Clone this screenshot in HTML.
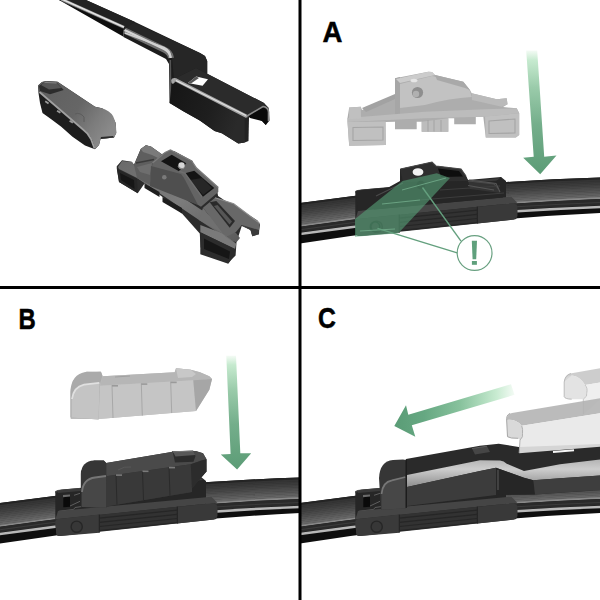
<!DOCTYPE html>
<html><head><meta charset="utf-8"><title>Wiper</title>
<style>
html,body{margin:0;padding:0;background:#fff;width:600px;height:600px;overflow:hidden}
svg{display:block;position:absolute;left:0;top:0}
</style></head><body>
<svg width="600" height="600" viewBox="0 0 600 600">
<defs>
<linearGradient id="gA" x1="0" y1="0" x2="0" y2="1">
 <stop offset="0" stop-color="#4f9c6c" stop-opacity="0"/>
 <stop offset="0.35" stop-color="#4f9c6c" stop-opacity="0.45"/>
 <stop offset="1" stop-color="#4f9c6c" stop-opacity="1"/>
</linearGradient>
<linearGradient id="gC" x1="0" y1="0" x2="1" y2="0">
 <stop offset="0" stop-color="#4f9c6c" stop-opacity="1"/>
 <stop offset="0.6" stop-color="#4f9c6c" stop-opacity="0.7"/>
 <stop offset="1" stop-color="#4f9c6c" stop-opacity="0"/>
</linearGradient>

<linearGradient id="capTop" x1="0" y1="0" x2="1" y2="0.6">
 <stop offset="0" stop-color="#5e5e5e"/>
 <stop offset="0.55" stop-color="#666666"/>
 <stop offset="0.8" stop-color="#7c7c7c"/>
 <stop offset="1" stop-color="#8a8a8a"/>
</linearGradient>
<linearGradient id="armSide" x1="0" y1="0" x2="1" y2="0.3">
 <stop offset="0" stop-color="#151515"/>
 <stop offset="0.6" stop-color="#1e1e1e"/>
 <stop offset="1" stop-color="#2a2a2a"/>
</linearGradient>
<linearGradient id="adpTop" x1="0" y1="0" x2="1" y2="1">
 <stop offset="0" stop-color="#6a6a6a"/>
 <stop offset="0.5" stop-color="#7c7c7c"/>
 <stop offset="1" stop-color="#5a5a5a"/>
</linearGradient>

<linearGradient id="arrV" x1="0" y1="0" x2="0" y2="1">
 <stop offset="0" stop-color="#f4fbf5"/>
 <stop offset="0.08" stop-color="#c6eacf"/>
 <stop offset="0.3" stop-color="#9acbaa"/>
 <stop offset="0.6" stop-color="#74ae8b"/>
 <stop offset="1" stop-color="#5c9c76"/>
</linearGradient>
<linearGradient id="arrH" x1="0" y1="0" x2="1" y2="0">
 <stop offset="0" stop-color="#5a9c76"/>
 <stop offset="0.25" stop-color="#66a882"/>
 <stop offset="0.55" stop-color="#88c29d"/>
 <stop offset="0.85" stop-color="#c8ebd1"/>
 <stop offset="1" stop-color="#f4fbf5"/>
</linearGradient>
<linearGradient id="capEndL" x1="0" y1="0" x2="1" y2="1">
 <stop offset="0" stop-color="#d2d2d2"/>
 <stop offset="0.5" stop-color="#bfbfbf"/>
 <stop offset="1" stop-color="#a9a9a9"/>
</linearGradient>
<linearGradient id="capEndD" x1="0" y1="0" x2="1" y2="1">
 <stop offset="0" stop-color="#4a4a4a"/>
 <stop offset="0.4" stop-color="#545454"/>
 <stop offset="1" stop-color="#333333"/>
</linearGradient>
<linearGradient id="armLight" x1="0" y1="0" x2="0" y2="1">
 <stop offset="0" stop-color="#b4b4b4"/>
 <stop offset="0.35" stop-color="#cdcdcd"/>
 <stop offset="1" stop-color="#8e8e8e"/>
</linearGradient>
</defs>
<rect width="600" height="600" fill="#fff"/>
<polygon points="59,0 86,0 135,22 200,53 205,56 207.2,61 207.2,73.75 264,103 268.6,107.7 269.5,120.5 265.8,125 262,121 250,115 245.7,119.6 244.75,142.5 238.3,143.4 221.8,133.3 214.5,131 199.8,120.5 183.3,111.3 169.6,103 169,64 166,59 123.5,37 123.5,29" fill="#1c1c1c" />
<polygon points="59,0 86,0 135,22 124,30" fill="#222222" />
<polygon points="59,0 123.5,29 123.5,37 124,37" fill="#0e0e0e" />
<path d="M61.5,-0.8 L124,27.3" stroke="#a0a0a0" stroke-width="2.8" fill="none"/>
<path d="M61.5,-1 L124,27.1" stroke="#e6e6e6" stroke-width="1.3" fill="none"/>
<polygon points="134,22.5 200,53 205,56 207.2,61 207.2,73.75 196,68 174,79 172,58 166,50 125,29" fill="#262626" />
<path d="M124.5,30.5 L164,49.5 Q170.5,52.5 171,58" stroke="#707070" stroke-width="6" fill="none" stroke-linejoin="round"/>
<path d="M124.5,30 L164,49 Q170,52 170.6,58" stroke="#d4d4d4" stroke-width="2.4" fill="none" stroke-linejoin="round"/>
<path d="M170.3,60 L170.6,100" stroke="#555555" stroke-width="1.6" fill="none"/>
<path d="M125,33 L164,47.5 Q170,50 170.6,57" stroke="#d0d0d0" stroke-width="1.6" fill="none"/>
<polygon points="174,79 196,68 207.2,73.75 264,103 266,107 246,116" fill="#2b2b2b" />
<polygon points="187.9,82.9 196.2,76.5 208,79.25 202.6,85.7" fill="#ffffff" />
<polygon points="187.9,82.9 196.2,76.5 199,78 191,83.5" fill="#555555" />
<polygon points="172,81 246,117 244.75,142.5 238.3,143.4 221.8,133.3 214.5,131 199.8,120.5 183.3,111.3 169.6,103" fill="url(#armSide)" />
<path d="M173,82 Q172,79 176,80 L246,116" stroke="#a5a5a5" stroke-width="3.4" fill="none" stroke-linecap="round"/>
<path d="M176,80.5 L246,115.5" stroke="#e2e2e2" stroke-width="1.1" fill="none"/>
<polygon points="248,116 263,107 267,110 268,121 265.8,125 262,121 250,118" fill="#0a0a0a" />
<path d="M247,116 L263,106.5 Q268,107 268.6,112 L268.5,121" stroke="#8a8a8a" stroke-width="1.6" fill="none"/>
<polygon points="244.75,119 249,116.5 248.5,141 244.75,142.5" fill="#232323" />
<polygon points="38.1,85.5 42,82 46.25,81.1 57.5,81.75 95,106.75 102,108.25 111,114.25 115.5,122.5 116.25,133 114,137.5 100.5,139 99,145 95,149.25 85,145.5 72.5,136.75 61.25,126.75 51.25,119.25 42.5,113 40,103 38.5,93" fill="#1d1d1d" />
<path d="M38.1,85.5 L42,82 L46.25,81.1 L57.5,81.75 L95,106.75 L102,108.25 Q110,111 113,116 Q116.5,123 116.25,133 L114,137.5 L100.5,139 L99,145 L95,149 Q93,140 90,136 Q87,132 83,129 L39.4,91.75 Z" fill="url(#capTop)"/>
<path d="M39.4,92 L83,129.5 Q88,133 91,139 L94.5,148.5" stroke="#a0a0a0" stroke-width="1.8" fill="none"/>
<polygon points="39,86 43.75,82.5 57,83 63.75,89.9 50,94.25 40,91" fill="#2c2c2c" />
<polygon points="41,85 44.5,82.2 56.5,82.8 61.5,88 49,89.5" fill="#565656" />
<path d="M44.5,82.4 L56.5,83" stroke="#8a8a8a" stroke-width="0.9"/>
<rect x="44.9" y="101.5" width="4" height="1.8" fill="#9a9a9a" transform="rotate(33 46.9 102.4)"/>
<rect x="56.75" y="110.85" width="4" height="1.8" fill="#9a9a9a" transform="rotate(33 58.75 111.75)"/>
<rect x="69.25" y="120.85" width="4" height="1.8" fill="#9a9a9a" transform="rotate(33 71.25 121.75)"/>
<path d="M75,114 Q80,112 84,117 L84,122" stroke="#5a5a5a" stroke-width="0.9" fill="none"/>
<polygon points="100.5,139 114,137.5 113,136 101,137" fill="#2a2a2a" />
<polygon points="116.75,166.25 122,160.25 131.75,161.75 134,164.75 140.75,149 146,145.25 151.25,146.75 161.75,154.25 170,150.5 174.5,151.25 192.5,161 194.5,167.9 217.25,191.5 218.1,195.9 229.5,203.75 232.1,204.6 257.5,220.4 260.1,224.75 258.4,233.5 252.25,235.25 250.5,230 241.75,226 236.5,242.25 235.6,255.4 227.75,263.25 200.6,247.5 199.75,233.5 182,213.5 162.5,197 144.5,183.5 137.75,193.25 119,182 116.75,168.5" fill="#2c2c2c" />
<polygon points="118,167 122,161 132,162 134,165 200,209 236,233 240,238 236.5,242.25 229,240 199,220 137,178 119,169" fill="url(#adpTop)" />
<polygon points="117,169 137,179 137.75,193.25 119,182" fill="#262626" />
<polygon points="120,173 134,180 134.5,189 121,180" fill="#161616" />
<polygon points="134,165 140.75,149 146,145.25 151.25,146.75 161.75,154.25 158,158 152.3,163.3 150,185 137,178" fill="#5e5e5e" />
<polygon points="140.75,149 146,145.25 151.25,146.75 161.75,154.25 158,158 152,155 143,152" fill="#7a7a7a" />
<path d="M136,163 L154,159.5" stroke="#3a3a3a" stroke-width="1.4" fill="none"/>
<polygon points="137,167 152,163 150,175 140,172" fill="#6e6e6e" />
<polygon points="152.3,163.3 165,152.7 170.3,150 191.7,161.3 196.3,168 218.3,187.3 218.3,192 201,206.7 196.3,204 150,185" fill="#646464" />
<polygon points="151,166 181,174 184,178 198,205 150,186" fill="#4f4f4f" />
<polygon points="161,161.3 171.7,154.7 186.3,163.3 179,171.3" fill="#141414" />
<polygon points="185,173.3 194.3,170.7 214.3,188 202.3,197.3" fill="#141414" />
<polygon points="190,180 202,178 212,188 203,195" fill="#262626" />
<path d="M152.5,163 L165,152.5 L170.5,150 L191.7,161 L196.5,168 L218.3,187.5" stroke="#7c7c7c" stroke-width="1.3" fill="none"/>
<path d="M179,171.3 L185,173.3 L202.3,197.3" stroke="#6e6e6e" stroke-width="1.5" fill="none"/>
<circle cx="181.5" cy="165.5" r="3.2" fill="#d6d6d6"/>
<path d="M178,166 Q180,170 184,168" stroke="#8a8a8a" stroke-width="1.2" fill="none"/>
<circle cx="164.3" cy="177.3" r="2.3" fill="#7a7a7a"/>
<polygon points="203,207.7 215,197.7 218.3,198.3 233.7,203.7 257.7,221.7 259.7,223.7 259,234.3 252.3,236.3 250.5,230 241.7,225 236,232 225.7,237" fill="#686868" />
<path d="M215,197.7 L233.7,203.7 L257.7,221.7 L259.7,223.7" stroke="#8c8c8c" stroke-width="1.2" fill="none"/>
<polygon points="209.7,202.3 216.3,201 235,221 229.7,227.7" fill="#2a2a2a" />
<polygon points="214,206 217.5,205 232,221.5 229.5,224.5" fill="#565656" />
<polygon points="241.7,225 259,230 259,234.3 252.3,236.3 250.5,230" fill="#3a3a3a" />
<polygon points="200.3,225 221.7,233 236.3,243.7 235,249 200.3,232.3" fill="#7a7a7a" />
<polygon points="203,207.7 225.7,237 236.3,243.7 221.7,233 199,220" fill="#707070" />
<polygon points="200.3,232.3 235,249 235,254.3 228.3,263.7 200.3,254.3" fill="#2c2c2c" />
<polygon points="204,238.5 230,251.5 229,259 204,249" fill="#161616" />
<polygon points="144.5,183.5 159.5,192 159.5,197 144.5,188" fill="#1e1e1e" />
<polygon points="162.5,197 182,208 182,213.5 162.5,202" fill="#1e1e1e" />
<g transform="translate(300,0)"><path d="M0,203.00 Q150,182.30 300,177.60 L300,213.10 Q150,220.30 0,243.50 Z" fill="#0e0e0e" />
<path d="M0,203.00 Q150,182.30 300,177.60 L300,199.10 Q150,205.05 0,227.00 Z" fill="#242424" />
<path d="M0,205.00 Q150,184.30 300,179.60 L300,181.44 Q150,186.25 0,207.05 Z" fill="#343434" />
<path d="M0,206.75 Q150,185.95 300,181.14 L300,182.98 Q150,187.89 0,208.80 Z" fill="#373737" />
<path d="M0,208.50 Q150,187.59 300,182.68 L300,184.53 Q150,189.54 0,210.55 Z" fill="#3b3b3b" />
<path d="M0,210.25 Q150,189.24 300,184.22 L300,186.07 Q150,191.18 0,212.30 Z" fill="#3f3f3f" />
<path d="M0,212.00 Q150,190.88 300,185.77 L300,187.61 Q150,192.83 0,214.05 Z" fill="#444444" />
<path d="M0,213.75 Q150,192.53 300,187.31 L300,189.15 Q150,194.48 0,215.80 Z" fill="#494949" />
<path d="M0,215.50 Q150,194.18 300,188.85 L300,190.69 Q150,196.12 0,217.55 Z" fill="#4e4e4e" />
<path d="M0,217.25 Q150,195.82 300,190.39 L300,192.23 Q150,197.77 0,219.30 Z" fill="#545454" />
<path d="M0,219.00 Q150,197.47 300,191.93 L300,193.78 Q150,199.41 0,221.05 Z" fill="#5a5a5a" />
<path d="M0,220.75 Q150,199.11 300,193.47 L300,195.32 Q150,201.06 0,222.80 Z" fill="#606060" />
<path d="M0,222.50 Q150,200.76 300,195.02 L300,196.86 Q150,202.70 0,224.55 Z" fill="#666666" />
<path d="M0,224.25 Q150,202.40 300,196.56 L300,198.40 Q150,204.35 0,226.30 Z" fill="#6d6d6d" />
<path d="M0,225.20 Q150,203.25 300,197.30 L300,198.90 Q150,204.85 0,226.80 Z" fill="#8a8a8a" />
<path d="M0,226.80 Q150,204.85 300,198.90 L300,205.60 Q150,211.10 0,232.60 Z" fill="#2a2a2a" />
<path d="M0,229.20 Q150,207.55 300,201.90 L300,202.90 Q150,208.55 0,230.20 Z" fill="#3c3c3c" />
<path d="M0,232.80 Q150,211.25 300,205.70 L300,208.20 Q150,213.75 0,235.30 Z" fill="#b8b8b8" />
<polygon points="55.3,191 62,189.5 201,177 206,181 206,204 55.3,220" fill="#262626" />
<polygon points="57,191 201,178 203,180 58,193" fill="#3a3a3a" />
<polygon points="63.3,196 70,195.4 70,206.7 63.3,207.3" fill="#0a0a0a" />
<polygon points="63,195 70,194.4 70,196.6 63,197.2" fill="#6a6a6a" />
<path d="M70,206 L80,201.3 M74,195.3 L80,193.3 M58.7,211.3 L73.5,209.5 L75,207.5 L82,206.5" stroke="#5e5e5e" stroke-width="1" fill="none"/>
<path d="M55.6,193 Q56,190.6 58.5,190.4 L80,188.6" stroke="#444" stroke-width="1" fill="none"/>
<polygon points="58,211 211.3,196.7 217.3,202.7 55.3,219.5" fill="#454545" />
<path d="M58,219 L214,203 Q217.3,202.7 217.3,206 L217.3,216 Q217.3,219.3 214,219.6 L60,236 Q56.5,236.4 56.2,233 L55.3,222.5 Q55.3,219.3 58,219 Z" fill="#323232"/>
<path d="M58,219 L99.3,214.6 L99.3,232.7 L60,236 Q56.5,236.4 56.2,233 L55.3,222.5 Q55.3,219.3 58,219 Z" fill="#3a3a3a"/>
<polygon points="177.3,207 214,203 217.3,206 217.3,216 214,219.6 177.3,223.5" fill="#393939" />
<line x1="99.3" y1="214.6" x2="99.3" y2="232.7" stroke="#222" stroke-width="1"/>
<line x1="177.3" y1="206.6" x2="177.3" y2="223.6" stroke="#222" stroke-width="1"/>
<circle cx="76.7" cy="226.7" r="5.6" fill="#373737" stroke="#262626" stroke-width="1.4"/>
<line x1="99.3" y1="218.1" x2="177.3" y2="210.1" stroke="#262626" stroke-width="1.2"/>
<line x1="99.3" y1="222.3" x2="177.3" y2="214.3" stroke="#262626" stroke-width="1.2"/>
<line x1="99.3" y1="226.5" x2="177.3" y2="218.5" stroke="#262626" stroke-width="1.2"/>
<line x1="99.3" y1="230.7" x2="177.3" y2="222.7" stroke="#262626" stroke-width="1.2"/></g>
<polygon points="349.2,107.5 360.8,106.7 362,110 395,95 395,78.3 428.3,71.7 432,72 435,75 463.3,81.7 470,90 471.7,93.3 496.7,99.2 506.7,98.3 507.5,104.2 503,107 516.7,108.3 519.2,113.3 519.2,135 515.8,137.5 485.8,137.5 483.3,116.7 475.8,117 475.8,124.2 454.2,124.2 454.2,118.3 448.3,118.3 448.3,131.7 421.7,131.7 421.7,121.7 416.7,121.7 416.7,129.2 395,129.2 395,121.7 385.5,122 385.8,145 349.2,145.8 347.5,122 347.5,118" fill="#adadad" />
<path d="M400,84 L432,76 L463.3,83 L470,91 L471.7,97 Q450,98 425,105 L400,108 Z" fill="#c2c2c2"/>
<polygon points="395,78.3 400,77 400,115 395,115" fill="#a6a6a6" />
<polygon points="396,79 428.3,71.7 432,72 435,75 400,83" fill="#cccccc" />
<polygon points="435,75 463.3,81.7 470,90 465,88 437,80" fill="#a9a9a9" />
<ellipse cx="414" cy="80.5" rx="3.5" ry="1.8" fill="#e6e6e6"/>
<circle cx="417.5" cy="92.5" r="5.6" fill="#8e8e8e"/><circle cx="416" cy="94" r="3.2" fill="#b0b0b0"/>
<polygon points="362,108 395,94 395,99 366,112" fill="#a2a2a2" />
<polygon points="471.7,93.3 496.7,99.2 506.7,98.3 507.5,104.2 501.7,106.7 472,100" fill="#bababa" />
<polygon points="347.5,118 425,111.7 485,109.2 516.7,108.3 519.2,113.3 483.3,116.7 425,118.3 347.5,122" fill="#bcbcbc" />
<polygon points="347.5,122 385.5,121.5 385.8,145 349.2,145.8" fill="#c0c0c0" />
<polygon points="353,127.5 383,127 383,140 353,140.5" fill="none" stroke="#a4a4a4" stroke-width="1.1"/>
<polygon points="349.2,107.5 360.8,106.7 361,118.5 349,119" fill="#c0c0c0" />
<polygon points="485,116.5 519.2,113.3 519.2,135 515.8,137.5 485.8,137.5" fill="#c0c0c0" />
<polygon points="489,121 515,119 515,133 489,133.5" fill="none" stroke="#a4a4a4" stroke-width="1.1"/>
<polygon points="421.7,121.7 448.3,118.3 448.3,131.7 421.7,131.7" fill="#bdbdbd" />
<line x1="428" y1="120" x2="428" y2="131.5" stroke="#a0a0a0" stroke-width="0.9"/>
<line x1="434" y1="120" x2="434" y2="131.5" stroke="#a0a0a0" stroke-width="0.9"/>
<line x1="441" y1="120" x2="441" y2="131.5" stroke="#a0a0a0" stroke-width="0.9"/>
<polygon points="526.2,50.5 537.2,50.5 544.2,156.7 556.5,155.5 540.2,174.2 523.2,157.8 533.7,156.7" fill="url(#arrV)"/>
<polygon points="355.8,190.8 388.3,187.5 400,181 400,169 432,162 436,166 461,169 466,176 468,180 494,183 501,177 503,181 503,197.5 358,211" fill="#262626" />
<polygon points="400,169 432,162 436,166 461,169 466,176 468,181 403,182" fill="#2e2e2e" />
<polygon points="438,168.5 459,171 463,176.5 441,177" fill="#0e0e0e" />
<path d="M400.5,169 L432,162 L436,166 L461,169 L466,176" stroke="#4a4a4a" stroke-width="1.1" fill="none"/>
<ellipse cx="418" cy="172" rx="5.4" ry="3.8" fill="#f2f2f2"/>
<polygon points="468,180 494,183 499,189 500,193 470,189" fill="#333333" />
<path d="M376,196 L403,183 M468,181 L494,184 L499,189" stroke="#4a4a4a" stroke-width="1.1" fill="none"/>
<path d="M440,190 L500,186 M420,200 L504,193" stroke="#3c3c3c" stroke-width="1" fill="none"/>
<path d="M469,180 L496,183.5 L500,192 M468,185.5 L494,190" stroke="#555555" stroke-width="1.1" fill="none"/>
<polygon points="355,236.7 355,219 402.5,181 436.7,173.3 450,178 398.3,233.3" fill="#559e76" fill-opacity="0.62"/>
<circle cx="375" cy="226.7" r="4.8" fill="none" stroke="#3f7055" stroke-width="1.3"/>
<circle cx="420.8" cy="185" r="4.3" fill="#3f6a52"/>
<path d="M360,231 L395,229 M382,204 L420,200 M402,190 L446,178" stroke="#79b592" stroke-width="0.9" fill="none" stroke-opacity="0.8"/>
<line x1="422.5" y1="187.5" x2="461" y2="241.2" stroke="#64a07e" stroke-width="1.4"/>
<line x1="377.5" y1="228.3" x2="457.2" y2="252.8" stroke="#64a07e" stroke-width="1.4"/>
<circle cx="474.6" cy="253" r="17.4" fill="#fff" fill-opacity="0.92" stroke="#68a080" stroke-width="1.2"/>
<path d="M471.8,240.7 L477,240.7 L476.2,259.3 L472.6,259.3 Z" fill="#5fa07c"/><rect x="471.9" y="261" width="5" height="3.8" fill="#5fa07c"/>
<g transform="translate(0,300)"><path d="M0,203.00 Q150,182.30 300,177.60 L300,213.10 Q150,220.30 0,243.50 Z" fill="#0e0e0e" />
<path d="M0,203.00 Q150,182.30 300,177.60 L300,199.10 Q150,205.05 0,227.00 Z" fill="#242424" />
<path d="M0,205.00 Q150,184.30 300,179.60 L300,181.44 Q150,186.25 0,207.05 Z" fill="#343434" />
<path d="M0,206.75 Q150,185.95 300,181.14 L300,182.98 Q150,187.89 0,208.80 Z" fill="#373737" />
<path d="M0,208.50 Q150,187.59 300,182.68 L300,184.53 Q150,189.54 0,210.55 Z" fill="#3b3b3b" />
<path d="M0,210.25 Q150,189.24 300,184.22 L300,186.07 Q150,191.18 0,212.30 Z" fill="#3f3f3f" />
<path d="M0,212.00 Q150,190.88 300,185.77 L300,187.61 Q150,192.83 0,214.05 Z" fill="#444444" />
<path d="M0,213.75 Q150,192.53 300,187.31 L300,189.15 Q150,194.48 0,215.80 Z" fill="#494949" />
<path d="M0,215.50 Q150,194.18 300,188.85 L300,190.69 Q150,196.12 0,217.55 Z" fill="#4e4e4e" />
<path d="M0,217.25 Q150,195.82 300,190.39 L300,192.23 Q150,197.77 0,219.30 Z" fill="#545454" />
<path d="M0,219.00 Q150,197.47 300,191.93 L300,193.78 Q150,199.41 0,221.05 Z" fill="#5a5a5a" />
<path d="M0,220.75 Q150,199.11 300,193.47 L300,195.32 Q150,201.06 0,222.80 Z" fill="#606060" />
<path d="M0,222.50 Q150,200.76 300,195.02 L300,196.86 Q150,202.70 0,224.55 Z" fill="#666666" />
<path d="M0,224.25 Q150,202.40 300,196.56 L300,198.40 Q150,204.35 0,226.30 Z" fill="#6d6d6d" />
<path d="M0,225.20 Q150,203.25 300,197.30 L300,198.90 Q150,204.85 0,226.80 Z" fill="#8a8a8a" />
<path d="M0,226.80 Q150,204.85 300,198.90 L300,205.60 Q150,211.10 0,232.60 Z" fill="#2a2a2a" />
<path d="M0,229.20 Q150,207.55 300,201.90 L300,202.90 Q150,208.55 0,230.20 Z" fill="#3c3c3c" />
<path d="M0,232.80 Q150,211.25 300,205.70 L300,208.20 Q150,213.75 0,235.30 Z" fill="#b8b8b8" />
<polygon points="55.3,191 62,189.5 201,177 206,181 206,204 55.3,220" fill="#262626" />
<polygon points="57,191 201,178 203,180 58,193" fill="#3a3a3a" />
<polygon points="63.3,196 70,195.4 70,206.7 63.3,207.3" fill="#0a0a0a" />
<polygon points="63,195 70,194.4 70,196.6 63,197.2" fill="#6a6a6a" />
<path d="M70,206 L80,201.3 M74,195.3 L80,193.3 M58.7,211.3 L73.5,209.5 L75,207.5 L82,206.5" stroke="#5e5e5e" stroke-width="1" fill="none"/>
<path d="M55.6,193 Q56,190.6 58.5,190.4 L80,188.6" stroke="#444" stroke-width="1" fill="none"/>
<polygon points="58,211 211.3,196.7 217.3,202.7 55.3,219.5" fill="#454545" />
<path d="M58,219 L214,203 Q217.3,202.7 217.3,206 L217.3,216 Q217.3,219.3 214,219.6 L60,236 Q56.5,236.4 56.2,233 L55.3,222.5 Q55.3,219.3 58,219 Z" fill="#323232"/>
<path d="M58,219 L99.3,214.6 L99.3,232.7 L60,236 Q56.5,236.4 56.2,233 L55.3,222.5 Q55.3,219.3 58,219 Z" fill="#3a3a3a"/>
<polygon points="177.3,207 214,203 217.3,206 217.3,216 214,219.6 177.3,223.5" fill="#393939" />
<line x1="99.3" y1="214.6" x2="99.3" y2="232.7" stroke="#222" stroke-width="1"/>
<line x1="177.3" y1="206.6" x2="177.3" y2="223.6" stroke="#222" stroke-width="1"/>
<circle cx="76.7" cy="226.7" r="5.6" fill="#373737" stroke="#262626" stroke-width="1.4"/>
<line x1="99.3" y1="218.1" x2="177.3" y2="210.1" stroke="#262626" stroke-width="1.2"/>
<line x1="99.3" y1="222.3" x2="177.3" y2="214.3" stroke="#262626" stroke-width="1.2"/>
<line x1="99.3" y1="226.5" x2="177.3" y2="218.5" stroke="#262626" stroke-width="1.2"/>
<line x1="99.3" y1="230.7" x2="177.3" y2="222.7" stroke="#262626" stroke-width="1.2"/></g>
<polygon points="70.7,419 70.7,389.7 73,381 78.7,375 86.7,371.5 101.3,372.3 102.7,376.3 174.7,372.3 176,368.3 190.7,369.7 200,372.3 209.3,376.3 212,379 209.3,389.7 196,411 98.7,419" fill="#bdbdbd" />
<polygon points="102.7,376.3 174.7,372.3 176,368.3 190.7,369.7 200,372.3 209.3,376.3 212,379 193.3,380.3 100,385.7" fill="#b6b6b6" />
<polygon points="176,368.3 190.7,369.7 196,374 192,377 178,378" fill="#c8c8c8" />
<polygon points="100,385.7 193.3,380.3 196,411 98.7,419" fill="#c5c5c5" />
<polygon points="193.3,380.3 212,379 209.3,389.7 196,411" fill="#a6a6a6" />
<path d="M70.4,417.4 L70.4,392 Q71,374 86,371.9 L100.75,371.4 L102.4,375.7 L99.7,385 L98.6,419.6 Z" fill="#aaaaaa"/>
<path d="M71.5,417.4 L71.5,400 Q73,387 84,384.5 L99.5,382.75 L98.6,419.6 Z" fill="#c4c4c4"/>
<path d="M72,399 Q73.5,387 84,384.6 L99.3,382.9" stroke="#e0e0e0" stroke-width="1.8" fill="none"/>
<line x1="112" y1="385.0" x2="113" y2="418.0" stroke="#a8a8a8" stroke-width="1"/>
<rect x="112" y="385.0" width="6" height="1.6" fill="#9a9a9a"/>
<line x1="141.3" y1="383.3" x2="142.3" y2="415.6" stroke="#a8a8a8" stroke-width="1"/>
<rect x="141.3" y="383.3" width="6" height="1.6" fill="#9a9a9a"/>
<line x1="170.7" y1="381.6" x2="171.7" y2="413.1" stroke="#a8a8a8" stroke-width="1"/>
<rect x="170.7" y="381.6" width="6" height="1.6" fill="#9a9a9a"/>
<path d="M115,377 L130,376" stroke="#a0a0a0" stroke-width="1"/>
<polygon points="226.3,355.8 236,355.8 240.3,453.3 251.2,453.3 237.1,469.6 220.8,454.4 230.6,454" fill="url(#arrV)"/>
<polygon points="80.9,505 80.9,471.4 85.7,464.2 94.2,460.5 103.8,460.5 106.2,463 171.5,452 172.7,450.9 195.7,450.9 203,453.3 206.5,459.3 206.5,471.4 192,488.3 192,492 106.2,506.5 106.2,507.7" fill="#353535" />
<polygon points="106.2,463 171.5,452 195.7,450.9 203,453.3 206.5,459.3 201.7,460.5 190.8,464.2 106.2,476.2" fill="#4a4a4a" />
<polygon points="106.2,476.2 190.8,464.2 192,488.3 192,492 106.2,506.5" fill="#393939" />
<polygon points="190.8,464.2 201.7,460.5 206.5,459.3 206.5,471.4 192,488.3" fill="#2c2c2c" />
<path d="M80.9,507 L80.9,474 Q81.5,461 94.2,460.5 L103.8,460.5 L106.2,463 L106.2,507.7 Z" fill="#363636"/>
<path d="M82,507 L82,492 Q83,479 95,477.5 L106.2,476 L106.2,507.7 Z" fill="#474747"/>
<path d="M82,492 Q83,479 95,477.5 L106,476" stroke="#767676" stroke-width="1.8" fill="none"/>
<polygon points="172.7,452 193.2,451 195.5,456 193.5,461.7 175,462.5" fill="#2c2c2c" />
<polygon points="172.7,451.5 193.2,450.6 195.2,455 175.5,456.5" fill="#585858" />
<path d="M173,451.8 L193,450.9" stroke="#7a7a7a" stroke-width="0.9"/>
<line x1="116" y1="474.8" x2="117" y2="504.8" stroke="#2a2a2a" stroke-width="1"/>
<rect x="116" y="474.3" width="6" height="1.6" fill="#7a7a7a"/>
<line x1="142.5" y1="471.0" x2="143.5" y2="500.3" stroke="#2a2a2a" stroke-width="1"/>
<rect x="142.5" y="470.5" width="6" height="1.6" fill="#7a7a7a"/>
<line x1="169" y1="467.3" x2="170" y2="495.8" stroke="#2a2a2a" stroke-width="1"/>
<rect x="169" y="466.8" width="6" height="1.6" fill="#7a7a7a"/>
<path d="M118,470 Q124,466 131,467" stroke="#5a5a5a" stroke-width="0.8" fill="none"/>
<g transform="translate(300,300)"><path d="M0,203.00 Q150,182.30 300,177.60 L300,213.10 Q150,220.30 0,243.50 Z" fill="#0e0e0e" />
<path d="M0,203.00 Q150,182.30 300,177.60 L300,199.10 Q150,205.05 0,227.00 Z" fill="#242424" />
<path d="M0,205.00 Q150,184.30 300,179.60 L300,181.44 Q150,186.25 0,207.05 Z" fill="#343434" />
<path d="M0,206.75 Q150,185.95 300,181.14 L300,182.98 Q150,187.89 0,208.80 Z" fill="#373737" />
<path d="M0,208.50 Q150,187.59 300,182.68 L300,184.53 Q150,189.54 0,210.55 Z" fill="#3b3b3b" />
<path d="M0,210.25 Q150,189.24 300,184.22 L300,186.07 Q150,191.18 0,212.30 Z" fill="#3f3f3f" />
<path d="M0,212.00 Q150,190.88 300,185.77 L300,187.61 Q150,192.83 0,214.05 Z" fill="#444444" />
<path d="M0,213.75 Q150,192.53 300,187.31 L300,189.15 Q150,194.48 0,215.80 Z" fill="#494949" />
<path d="M0,215.50 Q150,194.18 300,188.85 L300,190.69 Q150,196.12 0,217.55 Z" fill="#4e4e4e" />
<path d="M0,217.25 Q150,195.82 300,190.39 L300,192.23 Q150,197.77 0,219.30 Z" fill="#545454" />
<path d="M0,219.00 Q150,197.47 300,191.93 L300,193.78 Q150,199.41 0,221.05 Z" fill="#5a5a5a" />
<path d="M0,220.75 Q150,199.11 300,193.47 L300,195.32 Q150,201.06 0,222.80 Z" fill="#606060" />
<path d="M0,222.50 Q150,200.76 300,195.02 L300,196.86 Q150,202.70 0,224.55 Z" fill="#666666" />
<path d="M0,224.25 Q150,202.40 300,196.56 L300,198.40 Q150,204.35 0,226.30 Z" fill="#6d6d6d" />
<path d="M0,225.20 Q150,203.25 300,197.30 L300,198.90 Q150,204.85 0,226.80 Z" fill="#8a8a8a" />
<path d="M0,226.80 Q150,204.85 300,198.90 L300,205.60 Q150,211.10 0,232.60 Z" fill="#2a2a2a" />
<path d="M0,229.20 Q150,207.55 300,201.90 L300,202.90 Q150,208.55 0,230.20 Z" fill="#3c3c3c" />
<path d="M0,232.80 Q150,211.25 300,205.70 L300,208.20 Q150,213.75 0,235.30 Z" fill="#b8b8b8" />
<polygon points="55.3,191 62,189.5 201,177 206,181 206,204 55.3,220" fill="#262626" />
<polygon points="57,191 201,178 203,180 58,193" fill="#3a3a3a" />
<polygon points="63.3,196 70,195.4 70,206.7 63.3,207.3" fill="#0a0a0a" />
<polygon points="63,195 70,194.4 70,196.6 63,197.2" fill="#6a6a6a" />
<path d="M70,206 L80,201.3 M74,195.3 L80,193.3 M58.7,211.3 L73.5,209.5 L75,207.5 L82,206.5" stroke="#5e5e5e" stroke-width="1" fill="none"/>
<path d="M55.6,193 Q56,190.6 58.5,190.4 L80,188.6" stroke="#444" stroke-width="1" fill="none"/>
<polygon points="58,211 211.3,196.7 217.3,202.7 55.3,219.5" fill="#454545" />
<path d="M58,219 L214,203 Q217.3,202.7 217.3,206 L217.3,216 Q217.3,219.3 214,219.6 L60,236 Q56.5,236.4 56.2,233 L55.3,222.5 Q55.3,219.3 58,219 Z" fill="#323232"/>
<path d="M58,219 L99.3,214.6 L99.3,232.7 L60,236 Q56.5,236.4 56.2,233 L55.3,222.5 Q55.3,219.3 58,219 Z" fill="#3a3a3a"/>
<polygon points="177.3,207 214,203 217.3,206 217.3,216 214,219.6 177.3,223.5" fill="#393939" />
<line x1="99.3" y1="214.6" x2="99.3" y2="232.7" stroke="#222" stroke-width="1"/>
<line x1="177.3" y1="206.6" x2="177.3" y2="223.6" stroke="#222" stroke-width="1"/>
<circle cx="76.7" cy="226.7" r="5.6" fill="#373737" stroke="#262626" stroke-width="1.4"/>
<line x1="99.3" y1="218.1" x2="177.3" y2="210.1" stroke="#262626" stroke-width="1.2"/>
<line x1="99.3" y1="222.3" x2="177.3" y2="214.3" stroke="#262626" stroke-width="1.2"/>
<line x1="99.3" y1="226.5" x2="177.3" y2="218.5" stroke="#262626" stroke-width="1.2"/>
<line x1="99.3" y1="230.7" x2="177.3" y2="222.7" stroke="#262626" stroke-width="1.2"/></g>
<polygon points="394.3,425.9 406,405.3 408.3,414.7 511,384.3 514.5,394.8 411.8,425.2 415.3,436.8" fill="url(#arrH)"/>
<polygon points="406,459 480,445.7 498.7,443.7 518.7,447 600,444 600,490 535,494.5 493.3,495 407,506 381,509" fill="#2a2a2a" />
<path d="M407,475 L480,460.3 L500,460.5 Q504,461 506.7,463.7 L524,471 L560,464.3 L600,459.5 L600,475.5 L560,478.3 L533.3,480.3 L524,477.7 L496,467.7 L480,471 L407,487 Z" fill="url(#armLight)"/>
<polygon points="407,487 480,471 496,467.7 496,495 407,506" fill="#3c3c3c" />
<polygon points="496,467.7 524,477.7 533.3,480.3 535,494.5 496,495" fill="#262626" />
<polygon points="533.3,480.3 560,478.3 600,475.5 600,490 535,494.5" fill="#3e3e3e" />
<path d="M498,470 L498,490" stroke="#555" stroke-width="1.2"/>
<polygon points="472,448.5 487,446.2 490,452 475,454.5" fill="#464646" />
<path d="M472,448.5 L487,446.2" stroke="#666" stroke-width="0.8"/>
<path d="M564.2,381.7 Q565,374 571.7,373.3 L600,368.3 L600,382.5 L585,385 Q580,376 571.7,375.5 Z" fill="#c0c0c0" fill-opacity="0.8"/>
<path d="M564.2,381.7 L564.2,396.7 Q565,399 571.7,399.2 L583.3,399.2 Q588,396 586.7,393.3 Q588,388 585,385 Q580,376 571.7,375.5 Q565,376 564.2,381.7 Z" fill="#dadada" fill-opacity="0.75"/>
<path d="M585,385 L600,382.5 L600,400 L583.3,415 L583.3,399.2 Q588,396 586.7,393.3 Q588,388 585,385 Z" fill="#ececec" fill-opacity="0.85"/>
<path d="M571,373.5 Q565,375 564.2,382 L564.2,396.7 Q565,399 571.7,399.2" stroke="#b4b4b4" stroke-width="0.9" fill="none"/>
<path d="M585,385 Q588,388 586.7,393.3 Q588,396 583.3,399.2 L583.3,414" stroke="#c0c0c0" stroke-width="0.9" fill="none"/>
<path d="M506.7,420 Q507,413.8 512,413 L580.8,401.4 L600,398.3 L600,413.3 L521.7,425.8 Q516,419 506.7,420 Z" fill="#b2b2b2" fill-opacity="0.88"/>
<path d="M521.7,425.8 L600,413.3 L600,446.7 L519.2,453.3 L520,440 Q523.5,437 522.5,433.3 Q523,429 521.7,425.8 Z" fill="#e8e8e8" fill-opacity="0.9"/>
<path d="M506.7,420 L507.5,436.7 Q510,438.5 518.3,438.3 L520,440 Q523.5,437 522.5,433.3 Q523,429 521.7,425.8 Q516,419 506.7,420 Z" fill="#d4d4d4" fill-opacity="0.88"/>
<path d="M510,413.5 Q506,415 506.7,421 L507.5,436.7 Q510,438.5 518.3,438.3" stroke="#a6a6a6" stroke-width="1" fill="none"/>
<path d="M521.7,425.8 Q523,429 522.5,433.3 Q523.5,437 520,440 L519.2,453" stroke="#b0b0b0" stroke-width="1" fill="none"/>
<path d="M553,452 L574,450.3" stroke="#f8f8f8" stroke-width="2"/>
<path d="M381,509.6 L379,478 Q380,461 393,460 L403,459.5 L405.8,460 L405.8,508.5 Z" fill="#363636"/>
<path d="M381.5,509.6 L381.5,494 Q382.5,482 392,480.3 L405.8,477 L405.8,508.5 Z" fill="#474747"/>
<path d="M381.5,494 Q382.5,482 392,480.3 L405.5,477" stroke="#767676" stroke-width="1.8" fill="none"/>
<path d="M406.2,460 L406.2,508" stroke="#1a1a1a" stroke-width="1.2"/>
<rect x="298.5" y="0" width="3" height="600" fill="#000"/>
<rect x="0" y="286" width="600" height="3" fill="#000"/>
<g font-family="Liberation Sans, sans-serif" font-weight="bold" font-size="29.5" fill="#000" stroke="#000" stroke-width="0.5">
<text transform="translate(322.5,42.4) scale(0.935,1)">A</text>
<text transform="translate(18.5,329.2) scale(0.81,1)">B</text>
<text transform="translate(318,327.5) scale(0.84,1)">C</text>
</g>
</svg>
</body></html>
